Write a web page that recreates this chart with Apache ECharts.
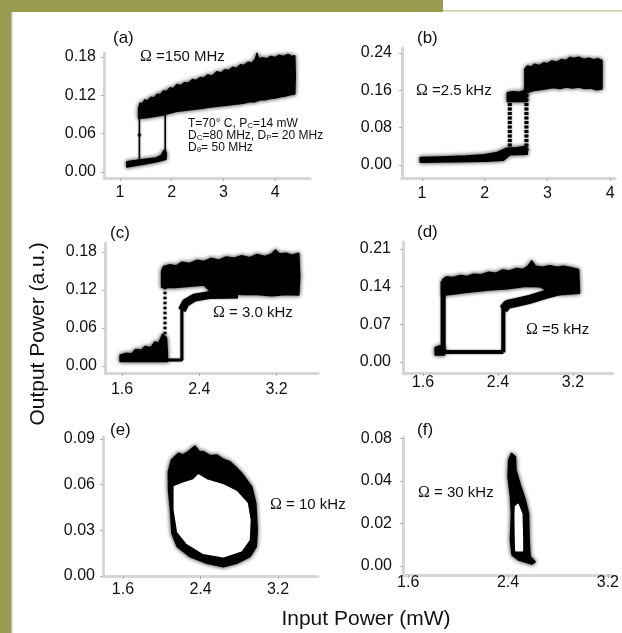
<!DOCTYPE html>
<html>
<head>
<meta charset="utf-8">
<script src="https://cdn.jsdelivr.net/npm/echarts@6.0.0/dist/echarts.min.js"></script>
<style>html,body{margin:0;padding:0;background:#fff;}#c{width:622px;height:633px;}</style>
</head>
<body>
<div id="c"></div>
<script>
// ---------- tick values / labels ----------
const aXTicks = [1, 2, 3, 4];
const aYTicks = [0, 0.06, 0.12, 0.18];
const bXTicks = [1, 2, 3, 4];
const bYTicks = [0, 0.08, 0.16, 0.24];
const cXTicks = [1.6, 2.4, 3.2];
const cYTicks = [0, 0.06, 0.12, 0.18];
const dXTicks = [1.6, 2.4, 3.2];
const dYTicks = [0, 0.07, 0.14, 0.21];
const eXTicks = [1.6, 2.4, 3.2];
const eYTicks = [0, 0.03, 0.06, 0.09];
const fXTicks = [1.6, 2.4, 3.2];
const fYTicks = [0, 0.02, 0.04, 0.06];
const fYLabels = ['0.00', '0.02', '0.04', '0.08'];
const panelLabels = ['(a)', '(b)', '(c)', '(d)', '(e)', '(f)'];

// ---------- data ----------
// (a) Omega = 150 MHz
const aUpper = [[1.36,0.084],[1.36,0.1],[1.39,0.108],[1.43,0.106],[1.48,0.113],[1.53,0.111],[1.6,0.117],[1.66,0.116],[1.72,0.122],[1.78,0.121],[1.84,0.127],[1.9,0.126],[1.97,0.132],[2.03,0.13],[2.1,0.137],[2.17,0.135],[2.25,0.14],[2.32,0.139],[2.4,0.145],[2.47,0.143],[2.55,0.148],[2.62,0.147],[2.7,0.152],[2.78,0.15],[2.87,0.157],[2.95,0.155],[3.03,0.16],[3.1,0.159],[3.18,0.164],[3.25,0.162],[3.33,0.168],[3.4,0.167],[3.48,0.172],[3.55,0.17],[3.62,0.177],[3.65,0.186],[3.68,0.177],[3.76,0.179],[3.84,0.177],[3.92,0.181],[4.0,0.179],[4.08,0.183],[4.16,0.181],[4.25,0.184],[4.32,0.181],[4.38,0.182],[4.39,0.15],[4.38,0.122],[4.28,0.121],[4.2,0.119],[4.1,0.118],[4.0,0.116],[3.9,0.115],[3.8,0.113],[3.71,0.113],[3.6,0.11],[3.5,0.11],[3.4,0.108],[3.3,0.107],[3.2,0.106],[3.1,0.105],[3.0,0.104],[2.87,0.103],[2.75,0.102],[2.6,0.1],[2.5,0.099],[2.4,0.098],[2.3,0.097],[2.2,0.096],[2.1,0.095],[1.95,0.092],[1.8,0.089],[1.65,0.087],[1.5,0.085]];
const aLower = [[1.13,0.008],[1.13,0.016],[1.3,0.018],[1.5,0.02],[1.7,0.022],[1.8,0.026],[1.85,0.034],[1.89,0.031],[1.89,0.02],[1.7,0.016],[1.5,0.013],[1.3,0.01]];
const aJumpUp = [[1.875,0.025],[1.875,0.09]];
const aJumpDown = [[1.375,0.097],[1.375,0.016]];
const aDot = [[1.375,0.058]];
// (b) Omega = 2.5 kHz
const bLower = [[0.97,0.006],[0.97,0.016],[1.3,0.017],[1.7,0.019],[2.0,0.022],[2.2,0.027],[2.35,0.036],[2.5,0.037],[2.67,0.04],[2.68,0.023],[2.4,0.022],[2.3,0.01],[2.0,0.008],[1.5,0.007]];
const bJumpL = [[2.40,0.03],[2.40,0.145]];
const bJumpR = [[2.665,0.03],[2.665,0.16]];
const bPlateau = [[2.36,0.136],[2.36,0.155],[2.45,0.157],[2.55,0.156],[2.67,0.16],[2.67,0.136]];
const bUpper = [[2.64,0.155],[2.64,0.205],[2.68,0.212],[2.74,0.21],[2.8,0.216],[2.87,0.213],[2.94,0.219],[3.0,0.217],[3.07,0.223],[3.15,0.22],[3.22,0.226],[3.3,0.224],[3.36,0.231],[3.42,0.228],[3.5,0.231],[3.58,0.226],[3.66,0.229],[3.74,0.225],[3.8,0.228],[3.87,0.224],[3.87,0.163],[3.78,0.161],[3.7,0.165],[3.6,0.164],[3.5,0.167],[3.4,0.165],[3.3,0.167],[3.2,0.164],[3.1,0.166],[3.0,0.164],[2.9,0.162],[2.8,0.16]];
// (c) Omega = 3.0 kHz
const cLowerCloud = [[1.58,0.007],[1.58,0.017],[1.64,0.02],[1.7,0.019],[1.74,0.026],[1.8,0.025],[1.84,0.031],[1.9,0.029],[1.94,0.038],[1.98,0.036],[2.02,0.05],[2.06,0.045],[2.07,0.02],[2.07,0.007]];
const cBottom = [[2.06,0.0095],[2.22,0.0095],[2.22,0.09]];
const cBranch = [[2.22,0.088],[2.26,0.1],[2.35,0.108],[2.5,0.112],[2.8,0.113]];
const cDotted = [[2.045,0.05],[2.045,0.125]];
const cUpper = [[2.01,0.124],[2.01,0.150],[2.03,0.157],[2.1,0.16],[2.16,0.158],[2.22,0.164],[2.3,0.162],[2.38,0.167],[2.45,0.165],[2.52,0.17],[2.6,0.167],[2.68,0.172],[2.76,0.17],[2.84,0.174],[2.92,0.171],[3.0,0.176],[3.08,0.173],[3.15,0.177],[3.19,0.183],[3.23,0.177],[3.3,0.178],[3.36,0.175],[3.43,0.178],[3.44,0.14],[3.43,0.112],[3.3,0.113],[3.15,0.111],[3.0,0.113],[2.85,0.113],[2.7,0.115],[2.5,0.12],[2.45,0.128],[2.3,0.126],[2.15,0.124]];
// (d) Omega = 5 kHz
const dBlob = [[1.73,0.013],[1.73,0.027],[1.78,0.03],[1.83,0.028],[1.83,0.013]];
const dBottom = [[1.8,0.0185],[2.457,0.0185]];
const dLeft = [[1.815,0.018],[1.815,0.15]];
const dRight = [[2.457,0.018],[2.457,0.102]];
const dUpper = [[1.81,0.124],[1.81,0.153],[1.85,0.158],[1.92,0.157],[2.0,0.161],[2.07,0.159],[2.14,0.163],[2.22,0.162],[2.3,0.167],[2.38,0.165],[2.45,0.171],[2.52,0.169],[2.6,0.174],[2.67,0.172],[2.72,0.178],[2.76,0.188],[2.8,0.178],[2.88,0.176],[2.95,0.179],[3.03,0.176],[3.1,0.178],[3.18,0.175],[3.26,0.172],[3.27,0.128],[3.1,0.126],[2.95,0.13],[2.85,0.14],[2.7,0.141],[2.5,0.136],[2.3,0.134],[2.1,0.13],[1.9,0.126]];
const dBranch = [[2.457,0.098],[2.5,0.107],[2.6,0.111],[2.75,0.117],[2.9,0.125],[3.05,0.132],[3.2,0.137]];
// (e) Omega = 10 kHz
const eOuter = [[2.068,0.0685],[2.10,0.0762],[2.171,0.0806],[2.22,0.0795],[2.274,0.0817],[2.343,0.0854],[2.39,0.0815],[2.429,0.0817],[2.5,0.079],[2.567,0.0795],[2.64,0.0765],[2.704,0.0751],[2.77,0.071],[2.825,0.0675],[2.928,0.0587],[2.97,0.0478],[2.985,0.0302],[2.975,0.0193],[2.911,0.0127],[2.773,0.0083],[2.635,0.0061],[2.464,0.0083],[2.291,0.0127],[2.16,0.0193],[2.105,0.028],[2.09,0.0434],[2.07,0.0565]];
const eInner = [[2.13,0.0587],[2.222,0.0609],[2.326,0.0631],[2.377,0.0664],[2.464,0.0631],[2.635,0.0598],[2.773,0.0554],[2.88,0.0478],[2.91,0.0368],[2.90,0.0237],[2.82,0.0165],[2.635,0.0127],[2.429,0.0149],[2.26,0.0215],[2.165,0.0291],[2.13,0.0434]];
// (f) Omega = 30 kHz
const fOuter = [[2.427,0.053],[2.459,0.0514],[2.463,0.0452],[2.498,0.0381],[2.538,0.0311],[2.564,0.0248],[2.569,0.0122],[2.577,0.0044],[2.617,0.002],[2.59,0.0009],[2.485,0.0028],[2.432,0.0052],[2.419,0.0122],[2.427,0.0248],[2.419,0.0326],[2.4,0.042],[2.405,0.0499]];
const fInner = [[2.46,0.028],[2.48,0.029],[2.51,0.0245],[2.515,0.0122],[2.515,0.0072],[2.463,0.0072],[2.46,0.0122],[2.457,0.0245]];

// ---------- layout ----------
const grids = [
  {left:104, top:53,  width:206, height:125},
  {left:402, top:48,  width:213, height:130},
  {left:105, top:243, width:213, height:130},
  {left:403, top:242, width:210, height:131},
  {left:103, top:437, width:215, height:139},
  {left:403, top:437, width:212, height:138}
];
const xRanges = [[0.69,4.675],[0.68,4.078],[1.424,3.629],[1.387,3.627],[1.394,3.612],[1.558,3.238]];
const yRanges = [[-0.0094,0.1864],[-0.0279,0.2507],[-0.011,0.1942],[-0.0204,0.223],[0,0.0913],[-0.0042,0.0607]];
const xTicks = [aXTicks,bXTicks,cXTicks,dXTicks,eXTicks,fXTicks];
const yTicks = [aYTicks,bYTicks,cYTicks,dYTicks,eYTicks,fYTicks];
const xMargins = [7,8,9,2,6,0];
const yMargins = [8,10,8,12,8,11];
const FONT = '"Liberation Sans", Arial, Helvetica, sans-serif';
const AXC = '#d6d6d6';

const xAxes = [], yAxes = [];
for (let i = 0; i < 6; i++) {
  xAxes.push({
    type:'value', gridIndex:i, min:xRanges[i][0], max:xRanges[i][1],
    axisLine:{show:true, onZero:false, lineStyle:{color:AXC, width:3}},
    axisTick:{show:true, length:3, customValues:xTicks[i], lineStyle:{color:'#b0b0b0', width:1}},
    axisLabel:{customValues:xTicks[i], margin:xMargins[i], color:'#111', fontSize:16, fontFamily:FONT,
      formatter: v => i < 2 ? String(Math.round(v)) : v.toFixed(1)},
    splitLine:{show:false}
  });
  yAxes.push({
    type:'value', gridIndex:i, min:yRanges[i][0], max:yRanges[i][1],
    axisLine:{show:true, onZero:false, lineStyle:{color:AXC, width:3}},
    axisTick:{show:true, length:3, customValues:yTicks[i], lineStyle:{color:'#b0b0b0', width:1}},
    axisLabel:{customValues:yTicks[i], margin:yMargins[i], color:'#111', fontSize:16, fontFamily:FONT,
      formatter: v => {
        if (i === 5) { const k = fYTicks.findIndex(t => Math.abs(t - v) < 1e-9); return k >= 0 ? fYLabels[k] : v.toFixed(2); }
        return v.toFixed(2);
      }},
    splitLine:{show:false}
  });
}

function poly(g, pts, fill, blur) {
  return {
    type:'custom', xAxisIndex:g, yAxisIndex:g, data:pts, silent:true, clip:false,
    renderItem:(params, api) => {
      if (params.dataIndex !== 0) return null;
      return {type:'polygon', shape:{points:pts.map(p => api.coord(p))},
        style:{fill:fill, stroke:fill, lineWidth:1.5, lineJoin:'round',
          shadowBlur: blur ? 4 : 0, shadowColor: blur ? 'rgba(0,0,0,0.75)' : 'transparent'}};
    }
  };
}
function line(g, pts, w, type) {
  return {type:'line', xAxisIndex:g, yAxisIndex:g, data:pts, symbol:'none', silent:true,
    lineStyle:{color:'#000', width:w, type:type || 'solid', shadowBlur:2, shadowColor:'rgba(0,0,0,0.6)'}};
}

const series = [
  poly(0, aUpper, '#000', true), poly(0, aLower, '#000', true),
  line(0, aJumpUp, 1.5), line(0, aJumpDown, 1.5),
  {type:'scatter', xAxisIndex:0, yAxisIndex:0, data:aDot, symbolSize:4, itemStyle:{color:'#000'}, silent:true},

  poly(1, bLower, '#000', true), line(1, bJumpL, 4, [3, 1.5]), line(1, bJumpR, 4, [3, 1.5]),
  poly(1, bPlateau, '#000', true), poly(1, bUpper, '#000', true),

  poly(2, cLowerCloud, '#000', true), line(2, cBottom, 3), line(2, cBranch, 8),
  line(2, cDotted, 3, [2.5, 2.5]), poly(2, cUpper, '#000', true),

  poly(3, dBlob, '#000', true), line(3, dBottom, 4), line(3, dLeft, 5), line(3, dRight, 4),
  poly(3, dUpper, '#000', true), line(3, dBranch, 9),

  poly(4, eOuter, '#000', true), poly(4, eInner, '#fff', false),

  poly(5, fOuter, '#000', true), poly(5, fInner, '#fff', false)
];

const OL = '#979c51';
const txt = (x, y, text, rich, extra) => Object.assign({type:'text', x:x, y:y, z:100,
  style:Object.assign({text:text, rich:rich, fill:'#111', verticalAlign:'middle', align:'left', fontFamily:FONT, fontSize:15}, extra || {})});
const omRich = {o:{fontFamily:'"Liberation Serif", "Times New Roman", serif', fontSize:16, fill:'#111'}, t:{fontFamily:FONT, fontSize:15, fill:'#111'}};
const blkRich = {t:{fontFamily:FONT, fontSize:12, lineHeight:12, fill:'#111'}, s:{fontFamily:FONT, fontSize:8, lineHeight:8, fill:'#111', verticalAlign:'bottom', padding:[5,0,0,0]}};

const graphic = [
  {type:'rect', shape:{x:0, y:0, width:11, height:633}, style:{fill:OL}, z:-10},
  {type:'rect', shape:{x:11, y:0, width:1.5, height:633}, style:{fill:'#c9cca2'}, z:-10},
  {type:'rect', shape:{x:0, y:0, width:443, height:12}, style:{fill:OL}, z:-10},
  {type:'rect', shape:{x:443, y:10, width:179, height:1.5}, style:{fill:'#c9cca2'}, z:-10},
  txt(113, 38, panelLabels[0], null, {fontSize:17}),
  txt(417, 38, panelLabels[1], null, {fontSize:17}),
  txt(110, 233, panelLabels[2], null, {fontSize:17}),
  txt(417, 232, panelLabels[3], null, {fontSize:17}),
  txt(110, 430, panelLabels[4], null, {fontSize:17}),
  txt(417, 430, panelLabels[5], null, {fontSize:17}),
  txt(140, 57, '{o|Ω}{t| =150 MHz}', omRich),
  txt(416, 91, '{o|Ω}{t| =2.5 kHz}', omRich),
  txt(213, 313, '{o|Ω}{t| = 3.0 kHz}', omRich),
  txt(526, 330, '{o|Ω}{t| =5 kHz}', omRich),
  txt(270, 505, '{o|Ω}{t| = 10 kHz}', omRich),
  txt(418, 493, '{o|Ω}{t| = 30 kHz}', omRich),
  txt(188, 136, '{t|T=70° C, P}{s|C}{t|=14 mW}\n{t|D}{s|C}{t|=80 MHz, D}{s|P}{t|= 20 MHz}\n{t|D}{s|θ}{t|= 50 MHz}', blkRich, {fontSize:12}),
  txt(366, 619, 'Input Power (mW)', null, {fontSize:21, align:'center'}),
  {type:'text', x:38, y:334, rotation:Math.PI/2, z:100,
    style:{text:'Output Power (a.u.)', fill:'#111', fontFamily:FONT, fontSize:21, align:'center', verticalAlign:'middle'}}
];

const chart = echarts.init(document.getElementById('c'), null, {renderer:'canvas'});
chart.setOption({
  animation:false,
  backgroundColor:'#fff',
  grid:grids,
  xAxis:xAxes,
  yAxis:yAxes,
  series:series,
  graphic:graphic
});
</script>
</body>
</html>
